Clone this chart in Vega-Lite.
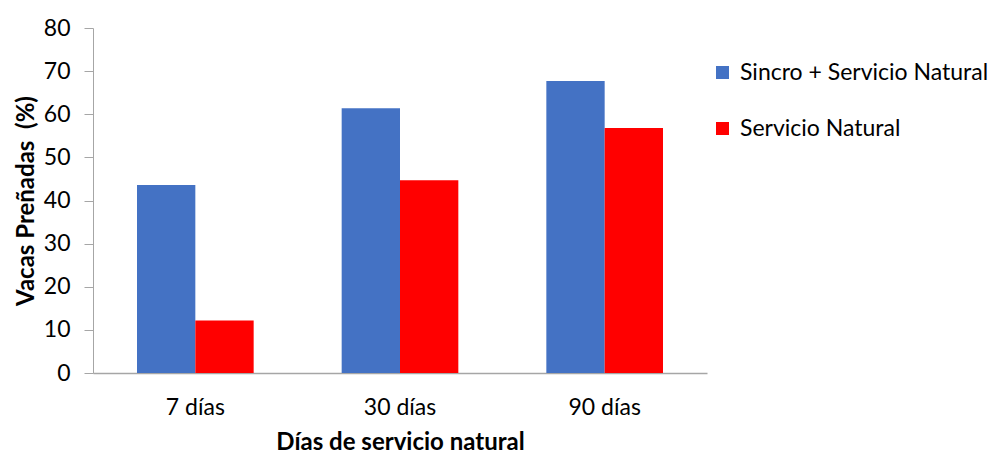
{
  "$schema": "https://vega.github.io/schema/vega-lite/v6.json",
  "width": 614,
  "height": 345,
  "autosize": {"type": "none"},
  "padding": {"left": 93, "top": 28, "right": 289, "bottom": 80},
  "background": "white",
  "config": {"view": {"stroke": null}, "font": "Lato"},
  "data": {
    "values": [
      {"dias": "7 días", "grupo": "Sincro + Servicio Natural", "valor": 43.6},
      {"dias": "7 días", "grupo": "Servicio Natural", "valor": 12.2},
      {"dias": "30 días", "grupo": "Sincro + Servicio Natural", "valor": 61.4},
      {"dias": "30 días", "grupo": "Servicio Natural", "valor": 44.7},
      {"dias": "90 días", "grupo": "Sincro + Servicio Natural", "valor": 67.7},
      {"dias": "90 días", "grupo": "Servicio Natural", "valor": 56.8}
    ]
  },
  "mark": {"type": "bar"},
  "encoding": {
    "x": {
      "field": "dias",
      "type": "nominal",
      "sort": ["7 días", "30 días", "90 días"],
      "scale": {"paddingInner": 0.43, "paddingOuter": 0.215},
      "axis": {
        "title": "Días de servicio natural",
        "titleFontSize": 24,
        "titleFontWeight": "bold",
        "titleColor": "black",
        "titlePadding": 11,
        "labelAngle": 0,
        "labelFontSize": 23,
        "labelColor": "black",
        "labelPadding": 23,
        "ticks": false,
        "domainColor": "#A6A6A6",
        "domainWidth": 1.5
      }
    },
    "xOffset": {
      "field": "grupo",
      "type": "nominal",
      "sort": ["Sincro + Servicio Natural", "Servicio Natural"]
    },
    "y": {
      "field": "valor",
      "type": "quantitative",
      "scale": {"domain": [0, 80]},
      "axis": {
        "title": "Vacas Preñadas\u00a0\u00a0(%)",
        "titleFontSize": 24,
        "titleFontWeight": "bold",
        "titleColor": "black",
        "titlePadding": 5,
        "values": [0, 10, 20, 30, 40, 50, 60, 70, 80],
        "labelOverlap": false,
        "labelFontSize": 23,
        "labelColor": "black",
        "labelPadding": 14,
        "tickSize": 9,
        "tickColor": "#A6A6A6",
        "domainColor": "#A6A6A6",
        "grid": false
      }
    },
    "color": {
      "field": "grupo",
      "type": "nominal",
      "sort": ["Sincro + Servicio Natural", "Servicio Natural"],
      "scale": {
        "domain": ["Sincro + Servicio Natural", "Servicio Natural"],
        "range": ["#4472C4", "#FF0000"]
      },
      "legend": {
        "title": null,
        "orient": "none",
        "legendX": 618,
        "legendY": 33,
        "symbolType": "square",
        "symbolSize": 169,
        "symbolStrokeWidth": 0,
        "labelFontSize": 23,
        "labelColor": "black",
        "labelLimit": 400,
        "rowPadding": 32,
        "labelOffset": 6
      }
    }
  }
}
